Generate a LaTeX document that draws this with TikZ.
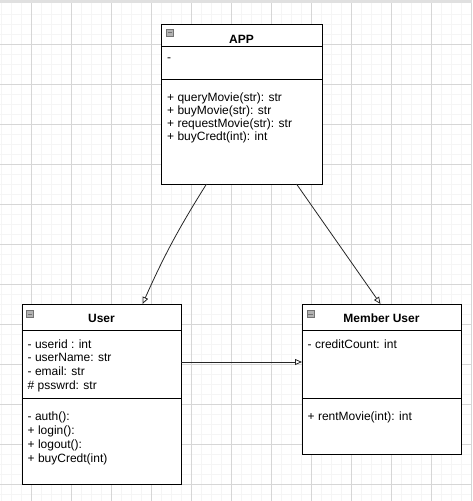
\documentclass[tikz,border=0pt]{standalone}
\usepackage{fontspec}
\setmainfont{Liberation Sans}
\usetikzlibrary{arrows.meta}

\begin{document}
\begin{tikzpicture}[x=1pt,y=-1pt]
\tikzset{minorgrid/.style = {draw=black!4,line width=0.6pt}}
\tikzset{majorgrid/.style = {draw=black!16,line width=0.6pt}}
\tikzset{classbox/.style = {shape=rectangle,draw,line width=1pt,inner sep=0pt,outer sep=0pt}}
\tikzset{title/.style = {font=\fontsize{12}{14}\selectfont\bfseries,inner sep=0pt,anchor=base}}
\tikzset{member/.style = {font=\fontsize{12}{14}\selectfont,inner sep=0pt,anchor=base west}}
\tikzset{toggle/.style = {shape=rectangle,draw=black!55,fill=black!30,line width=0.6pt,minimum size=7pt,inner sep=0pt,
  path picture={\draw[line width=1pt] ([xshift=-2.2pt]path picture bounding box.center) -- ([xshift=2.2pt]path picture bounding box.center);}}}
\tikzset{edge/.style = {-{Triangle[open,length=7pt,width=6pt]},line width=0.8pt,draw=black!85}}
\useasboundingbox (0,0) rectangle (472,501);
% background grid
\fill[black!12] (0,0) rectangle (472,3);
\foreach \x in {1.5,11.5,...,471.5} \draw[minorgrid] (\x,3) -- (\x,501);
\foreach \y in {14.3,24.3,...,500} \draw[minorgrid] (0,\y) -- (472,\y);
\foreach \x in {31.5,71.5,...,471.5} \draw[majorgrid] (\x,3) -- (\x,501);
\foreach \y in {44.3,84.3,...,500} \draw[majorgrid] (0,\y) -- (472,\y);
% classes
\node[classbox,minimum width=161pt,minimum height=160pt,fill=white](app) at (241.5,104) {};
\node[classbox,minimum width=159pt,minimum height=180pt,fill=white](user) at (101.5,394) {};
\node[classbox,minimum width=159pt,minimum height=150pt,fill=white](member) at (381.5,379) {};
\draw[line width=1pt] ([yshift=-22pt]app.north west) -- ([yshift=-22pt]app.north east);
\draw[line width=1pt] ([yshift=-55pt]app.north west) -- ([yshift=-55pt]app.north east);
\draw[line width=1pt] ([yshift=-26pt]user.north west) -- ([yshift=-26pt]user.north east);
\draw[line width=1pt] ([yshift=-94pt]user.north west) -- ([yshift=-94pt]user.north east);
\draw[line width=1pt] ([yshift=-26pt]member.north west) -- ([yshift=-26pt]member.north east);
\draw[line width=1pt] ([yshift=-94.5pt]member.north west) -- ([yshift=-94.5pt]member.north east);
\node[toggle](appicon) at ([xshift=9pt,yshift=-8.5pt]app.north west) {};
\node[toggle](usericon) at ([xshift=8.2pt,yshift=-10.2pt]user.north west) {};
\node[toggle](membericon) at ([xshift=8.3pt,yshift=-10.2pt]member.north west) {};
\node[title](apptitle) at ([yshift=-19pt]app.north) {APP};
\node[title](usertitle) at ([yshift=-18pt]user.north) {User};
\node[title](membertitle) at ([yshift=-18pt]member.north) {Member User};
% members
\node[member](appattr) at ([xshift=6pt,yshift=-37pt]app.north west) {-};
\foreach \t [count=\i] in {+ queryMovie(str): str,+ buyMovie(str): str,+ requestMovie(str): str,+ buyCredt(int): int}
  \node[member](appop\i) at ([xshift=6pt,yshift={-77pt-(\i-1)*13.2pt}]app.north west) {\t};
\foreach \t [count=\i] in {- userid : int,- userName: str,- email: str,\# psswrd: str}
  \node[member](userattr\i) at ([xshift=5.5pt,yshift={-44pt-(\i-1)*13.8pt}]user.north west) {\t};
\foreach \t [count=\i] in {- auth():,+ login():,+ logout():,+ buyCredt(int)}
  \node[member](userop\i) at ([xshift=5.5pt,yshift={-116pt-(\i-1)*14pt}]user.north west) {\t};
\node[member](memberattr) at ([xshift=5.5pt,yshift=-44pt]member.north west) {- creditCount: int};
\node[member](memberop) at ([xshift=5.5pt,yshift=-116pt]member.north west) {+ rentMovie(int): int};
% associations
\draw[edge] ([xshift=-35pt]app.south) to[bend right=4] ([xshift=41pt]user.north);
\draw[edge] ([xshift=55pt]app.south) -- ([xshift=-1pt]member.north);
\draw[edge] ([yshift=32pt]user.east) -- ([yshift=32pt]user.east -| member.west);
\end{tikzpicture}
\end{document}
